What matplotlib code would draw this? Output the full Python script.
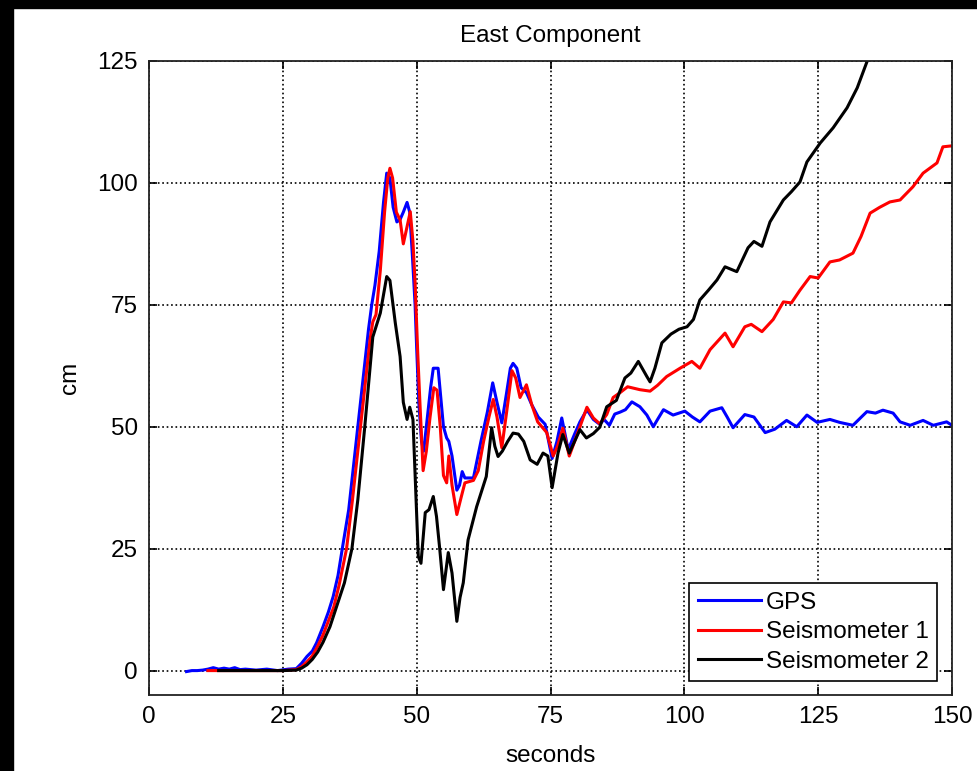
import numpy as np
import matplotlib
matplotlib.use("Agg")
import matplotlib.pyplot as plt
from matplotlib.patches import Rectangle

plt.rcParams["font.family"] = ["Liberation Sans", "DejaVu Sans"]

# GPS displacement trace (cm vs seconds)
gps_t = [7, 8, 9, 10, 11, 12, 13, 14, 15, 16, 17, 18, 20, 22, 24, 26, 27.5, 28.5, 29.5, 30.5,
         31.3, 32.5, 33.5, 34.4, 35.3, 36.1, 37.3, 38.2, 39, 40, 41, 41.6, 42.2, 43, 43.8, 44.4,
         45, 45.6, 46.3, 46.9, 47.5, 48.2, 48.7, 49.2, 49.7, 50, 50.4, 50.9, 51.3, 52, 52.6, 53.1,
         54, 54.5, 55, 55.6, 56, 56.6, 57.5, 58, 58.5, 59, 60.6, 62, 63.2, 64.2, 65, 65.9, 66.8,
         67.5, 68, 68.7, 69.5, 70.5, 71.5, 72.7, 74, 75.3, 76.2, 77.1, 78.3, 79.5, 80.5, 81.8, 83,
         84.2, 85, 86, 87, 88, 89, 90.2, 91.7, 93, 94.2, 95, 96.1, 97.9, 100.1, 101.5, 102.9, 104.8,
         107, 108, 109.1, 111.3, 113, 115.1, 116.9, 119.1, 121, 122.9, 124.8, 127.2, 129, 131.5,
         134.1, 135.7, 137.1, 139, 140.3, 142.2, 144.6, 146.5, 149, 150]
gps_cm = [-0.2, 0, 0, 0.1, 0.3, 0.6, 0.3, 0.5, 0.3, 0.6, 0.2, 0.3, 0.1, 0.3, 0.0, 0.3, 0.4, 1.5, 2.9, 4,
          5.7, 9, 12, 15.2, 19.5, 25, 33, 42, 50, 60, 70, 75, 79, 86, 96, 102,
          101, 95, 92, 92.5, 94, 96, 94, 85, 75, 66, 55, 47, 45, 52, 58, 62,
          62, 56, 50, 47.7, 47, 44, 37, 38, 40.8, 39.5, 39.5, 47, 53, 59, 55, 50.8, 57,
          62, 63, 62, 58, 57, 54.5, 52, 50.5, 43.5, 47, 51.8, 45.3, 48.5, 51, 53.5, 51.5,
          50.5, 51.5, 50.3, 52.6, 53, 53.5, 55.1, 54.1, 52.4, 50, 51.5, 53.5, 52.4, 53.2, 52, 51, 53.2,
          53.9, 52, 49.8, 52.5, 52, 48.8, 49.5, 51.3, 50, 52.4, 50.9, 51.5, 50.9, 50.3,
          53.1, 52.8, 53.4, 52.8, 51, 50.3, 51.3, 50.3, 51, 50.3]

# seismometer 1
s1_t = [11, 13, 15, 20, 25, 27.5, 28.5, 29.5, 30.5, 31.5, 32.5, 33.2, 34.5, 35.5, 36.9, 38, 39.5,
        40.5, 41.3, 41.8, 42.4, 43.2, 44, 44.6, 45, 45.5, 46.2, 46.9, 47.5, 48, 48.8, 49.3, 49.7,
        50.2, 50.6, 51.2, 51.8, 52.5, 53.2, 53.8, 54.4, 55, 55.6, 56, 56.6, 57.5, 58.3, 59, 60.6,
        61.5, 62.5, 63.5, 64.3, 65, 65.9, 66.8, 67.8, 68.5, 69.3, 70.5, 71.5, 72.6, 74.3, 75.5,
        76.3, 77.3, 78.5, 79.5, 80.5, 81.8, 83, 84.2, 85.5, 86.7, 88, 89.4, 91.7, 93.6, 95, 96.7,
        99.2, 101.4, 102.9, 104.8, 107.6, 109.1, 111.3, 112.5, 114.5, 116.6, 118.5, 120, 121.6,
        123.5, 125, 127.2, 129, 131.5, 133, 134.7, 136.5, 138.4, 140.3, 142.7, 144.6, 147.2, 148.3, 150]
s1_cm = [0, 0, 0, 0, 0, 0.2, 0.8, 1.8, 3, 5, 7.3, 9.3, 13, 17.5, 25, 35, 50,
         60, 68, 71.5, 73, 82, 94, 101, 103, 101, 94, 92.4, 87.5, 90, 94.1, 88, 79.5,
         65, 55, 41, 45, 52, 58, 57.5, 50, 40, 38.5, 44, 38, 32, 35.5, 38.5, 39,
         41, 47, 52, 55.6, 52, 45.7, 53, 61.5, 60, 56, 58.6, 54.5, 51, 48.8, 44,
         46, 49.7, 44, 47, 50, 54, 51.8, 50.6, 52.5, 56, 57, 58.2, 57.6, 57.3, 58.5, 60.3,
         62, 63.4, 62, 65.8, 69.2, 66.4, 70.5, 71, 69.5, 72, 75.6, 75.4, 78,
         80.8, 80.5, 83.8, 84.2, 85.6, 89, 93.8, 95, 96.1, 96.5, 99.2, 102, 104.1, 107.4, 107.6]

# seismometer 2
s2_t = [13, 15, 20, 25, 27.5, 28.5, 29.5, 30.5, 31.5, 32.5, 33.8, 35, 36.5, 37.9, 39, 40.3, 41.8,
        43.2, 44.4, 45, 46, 46.9, 47.5, 48.2, 48.7, 49.3, 50.3, 50.8, 51.6, 52.3, 53.1, 53.7, 54.3,
        55, 55.9, 56.6, 57.5, 58.1, 58.7, 59.6, 61.2, 63, 64, 64.6, 65.2, 66, 67, 68, 69, 70, 71.2,
        72.5, 73.6, 74.5, 75.3, 76.4, 77.3, 78.5, 79.5, 80.5, 81.7, 83, 84.2, 85.5, 87.3, 88.9, 90,
        91.4, 93, 93.6, 94.5, 95.8, 97.5, 99, 100.5, 101.7, 102.9, 104.5, 106.1, 107.6, 109.8, 111.9,
        113, 114.5, 116, 118.5, 120, 121.6, 122.9, 125.4, 127.8, 130.4, 132.3, 134.1, 135]
s2_cm = [0, 0, 0, 0, 0.1, 0.5, 1.2, 2.3, 3.8, 5.8, 9, 13, 18, 25, 35, 50, 68.4,
         73.3, 80.8, 80, 71.3, 64.4, 55, 51.5, 54, 51.5, 23.4, 22, 32.4, 33, 35.7, 31.6, 25,
         16.6, 24.2, 20, 10.1, 15, 18, 26.8, 33.6, 39.8, 49.8, 46, 43.9, 45, 47, 48.7, 48.5, 47, 43.2,
         42.3, 44.6, 44, 37.5, 44.6, 48.4, 44.6, 47, 49.4, 47.7, 48.6, 49.9, 54.1, 55.4, 60, 61,
         63.4, 60.3, 59.2, 62, 67.2, 69, 70, 70.5, 72, 76, 78, 80.1, 82.8, 81.8, 86.7,
         88, 87, 92, 96.5, 98.2, 100.2, 104.3, 108.2, 111.3, 115.4, 119.5, 124.8, 127]

xticks = [0, 25, 50, 75, 100, 125, 150]
yticks = [0, 25, 50, 75, 100, 125]
FS = 17.5

fig = plt.figure(figsize=(9.78, 7.71), dpi=100)
ax = fig.add_axes([0.1524, 0.0986, 0.821, 0.8223])

ax.plot(gps_t, gps_cm, color="#0000ff", lw=2.2, label="GPS")
ax.plot(s1_t, s1_cm, color="#ff0000", lw=2.2, label="Seismometer 1")
ax.plot(s2_t, s2_cm, color="black", lw=2.2, label="Seismometer 2")

ax.set_xlim(0, 150)
ax.set_ylim(-5, 125)
ax.set_xticks(xticks)
ax.set_yticks(yticks)
ax.grid(True, color="black", linestyle=":", lw=1.2)
ax.tick_params(direction="in", top=True, right=True, length=6, width=1.2,
               labelsize=FS, pad=8)
for sp in ax.spines.values():
    sp.set_linewidth(1.3)
    sp.set_color("#222222")

ax.set_title("East Component", fontsize=FS, pad=14)
ax.set_xlabel("seconds", fontsize=FS, labelpad=12)
ax.set_ylabel("cm", fontsize=FS, labelpad=12)

leg = ax.legend(loc="lower right", bbox_to_anchor=(0.9813, 0.022), fontsize=FS,
                fancybox=False, framealpha=1, edgecolor="black", handlelength=2.6,
                handletextpad=0.2, borderpad=0.35, labelspacing=0.3, borderaxespad=0)
leg.get_frame().set_linewidth(1.2)

# dark frame strips on the top and left edges
fig.patches.append(Rectangle((0, 0), 13 / 978, 1, transform=fig.transFigure,
                             color="black", zorder=10))
fig.patches.append(Rectangle((0, 1 - 8 / 771), 1, 8 / 771, transform=fig.transFigure,
                             color="black", zorder=10))

fig.savefig("out.png", dpi=100)
